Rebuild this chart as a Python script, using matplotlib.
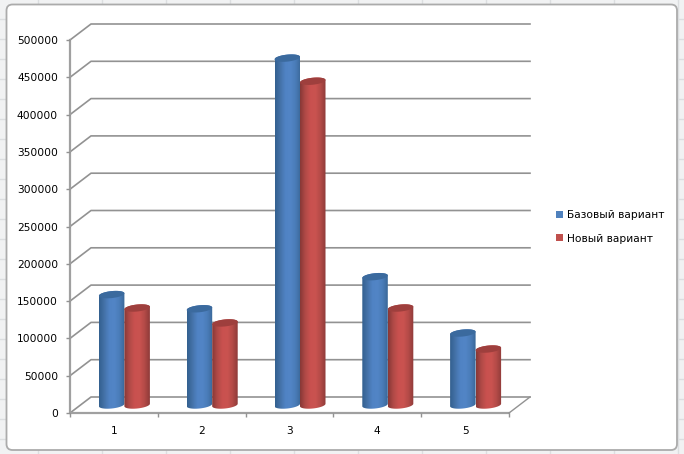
import numpy as np
import matplotlib
matplotlib.use('Agg')
import matplotlib.pyplot as plt
from matplotlib.colors import LinearSegmentedColormap
from matplotlib.patches import FancyBboxPatch, PathPatch, Patch, Polygon
from matplotlib.path import Path

categories = ['1', '2', '3', '4', '5']
base_values = [148000, 129000, 465000, 172000, 96500]
new_values = [130000, 110000, 434000, 130000, 75000]
series_names = ['Базовый вариант', 'Новый вариант']
y_ticks = [0, 50000, 100000, 150000, 200000, 250000, 300000, 350000, 400000, 450000, 500000]

W, H = 684, 454
GRID = '#929292'

fig = plt.figure(figsize=(W / 100, H / 100), dpi=100)
fig.patch.set_facecolor('#f1f2f3')

# spreadsheet behind the chart
bg = fig.add_axes([0, 0, 1, 1])
bg.set_xlim(0, W)
bg.set_ylim(H, 0)
bg.axis('off')
for x in range(38, W, 64):
    bg.plot([x, x], [0, H], color='#dcdee0', lw=1, zorder=1)
for y in range(19, H, 20):
    bg.plot([0, W], [y, y], color='#dcdee0', lw=1, zorder=1)
bg.add_patch(FancyBboxPatch((6.5, 4.5), 670.5, 445.5, boxstyle='round,pad=0,rounding_size=6',
                            fc='white', ec='#ababab', lw=1.3, zorder=2))

# front plane of the 3d box
ax = fig.add_axes([70 / W, (H - 413) / H, 439 / W, 373 / H])
ax.set_xlim(0.5, 5.5)
ax.set_ylim(0, 500000)
ax.patch.set_alpha(0)
for s in ax.spines.values():
    s.set_visible(False)

# depth of the box in data units
dx = 21 / 87.8
dy = 16 / 373 * 500000

for v in y_ticks:
    ax.plot([0.5, 0.5 + dx, 5.5 + dx], [v, v + dy, v + dy], color=GRID, lw=1.2,
            clip_on=False, zorder=1)
ax.plot([0.5, 0.5, 5.5], [500000, 0, 0], color='#a0a0a0', lw=1.6,
        clip_on=False, zorder=1, solid_joinstyle='miter')
ax.plot([5.5, 5.5 + dx], [0, dy], color=GRID, lw=1, clip_on=False, zorder=1)

ax.set_yticks(y_ticks)
ax.set_yticklabels([str(v) for v in y_ticks])
ax.set_xticks([0.5, 1.5, 2.5, 3.5, 4.5, 5.5])
ax.set_xticklabels([])
for i, c in enumerate(categories):
    ax.text(i + 1, -23500, c, ha='center', va='center', fontsize=7.7, color='black')
ax.tick_params(axis='both', length=3.2, width=1, color=GRID, labelsize=7.7, labelcolor='black')
ax.tick_params(axis='y', pad=5.5)

blue_cmap = LinearSegmentedColormap.from_list('b', ['#33608f', '#4472a8', '#5083c4', '#5285c6', '#4a7cb8', '#3a6898'])
red_cmap = LinearSegmentedColormap.from_list('r', ['#873836', '#b04a47', '#c9514f', '#ca5350', '#b34a47', '#8f3b39'])
gradient = np.linspace(0, 1, 64).reshape(1, -1)

bar_w = 25.5 / 87.8
ell_h = 7 / 373 * 500000
tilt = 2.5 / 373 * 500000  # the rims rise to the right


def rim(cx, cy, start, stop):
    t = np.linspace(start, stop, 40)
    xs = cx + bar_w / 2 * np.cos(t)
    ys = cy + ell_h / 2 * np.sin(t) + tilt * np.cos(t) / 2
    return np.column_stack([xs, ys])


def cylinder(x_left, value, cmap, top_color):
    x0 = x_left + dx / 2
    y0 = dy / 2
    cx = x0 + bar_w / 2
    verts = np.vstack([rim(cx, y0 + value, 0, np.pi), rim(cx, y0, np.pi, 2 * np.pi)])
    verts = np.vstack([verts, verts[:1]])
    body = PathPatch(Path(verts), transform=ax.transData, fc='none', ec='none')
    ax.add_patch(body)
    im = ax.imshow(gradient, cmap=cmap, extent=[x0, x0 + bar_w, y0 - ell_h - tilt, y0 + value + ell_h + tilt],
                   aspect='auto', zorder=3, interpolation='bilinear')
    im.set_clip_path(body)
    ax.add_patch(Polygon(rim(cx, y0 + value, 0, 2 * np.pi), closed=True, fc=top_color, ec='none', zorder=3.5))


for i in range(len(categories)):
    cylinder(i + 1 - bar_w, base_values[i], blue_cmap, '#3b6a9e')
    cylinder(i + 1, new_values[i], red_cmap, '#9e3f3d')

ax.set_xlim(0.5, 5.5)
ax.set_ylim(0, 500000)

handles = [Patch(fc='#4f81bd', ec='none'), Patch(fc='#c0504d', ec='none')]
fig.legend(handles, series_names, loc='center left', bbox_to_anchor=(556 / W, (H - 227) / H),
           frameon=False, fontsize=7.7, labelspacing=1.22, handlelength=0.68, handleheight=0.68,
           handletextpad=0.35, borderpad=0, borderaxespad=0)

fig.savefig('out.png', dpi=100)
